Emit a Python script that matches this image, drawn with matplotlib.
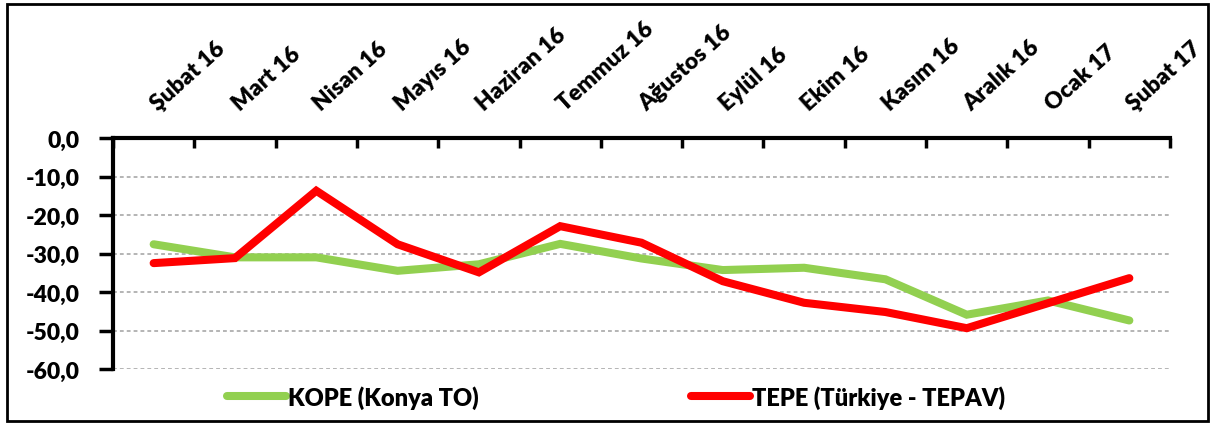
import matplotlib
matplotlib.use("Agg")
from matplotlib import pyplot as plt
from matplotlib.patches import Rectangle
import matplotlib.transforms as mtransforms

months = ["Şubat 16", "Mart 16", "Nisan 16", "Mayıs 16", "Haziran 16", "Temmuz 16",
          "Ağustos 16", "Eylül 16", "Ekim 16", "Kasım 16", "Aralık 16", "Ocak 17", "Şubat 17"]
kope = [-27.6, -31.0, -31.0, -34.5, -32.8, -27.5, -31.3, -34.3, -33.7, -36.7, -45.9, -42.2, -47.4]
tepe = [-32.5, -31.2, -13.7, -27.6, -34.9, -22.9, -27.2, -37.2, -42.8, -45.2, -49.4, -42.9, -36.4]
yticks = [0, -10, -20, -30, -40, -50, -60]

W = "heavy"
plt.rcParams['font.family'] = ['Lato', 'DejaVu Sans']
plt.rcParams['font.weight'] = W

fig = plt.figure(figsize=(12.15, 4.27), dpi=100)
ax = fig.add_axes([113/1215, 1-370/427, (1170-113)/1215, (370-139)/427])

x = list(range(len(months)))
ax.plot(x, kope, color="#92D050", lw=5.8, solid_capstyle="round", solid_joinstyle="miter",
        label="KOPE (Konya TO)")
ax.plot(x, tepe, color="#FF0000", lw=5.8, solid_capstyle="round", solid_joinstyle="miter",
        label="TEPE (Türkiye - TEPAV)")

ax.set_xlim(-0.5, len(months) - 0.5)
ax.set_ylim(-60, 0)

# y axis
ax.set_yticks(yticks)
ax.set_yticklabels([("%.1f" % v).replace(".", ",") for v in yticks], fontsize=16.5, fontweight=W)
ax.tick_params(axis="y", direction="out", length=10, width=2.5, pad=14)
for v in yticks[1:]:
    ax.axhline(v, color="#a0a0a0", lw=1.1, ls=(0, (2.5, 2)), zorder=0)

# x axis on top, ticks between categories
ax.xaxis.tick_top()
ax.set_xticks([i - 0.5 for i in range(len(months) + 1)])
ax.set_xticklabels([])
ax.tick_params(axis="x", direction="in", length=7, width=2.5)

off = mtransforms.ScaledTranslation(5/100, 0, fig.dpi_scale_trans)
trans = mtransforms.blended_transform_factory(ax.transData, ax.transAxes) + off
for i, m in enumerate(months):
    ax.text(i, 1 + 27/231, m, transform=trans, rotation=42, rotation_mode="anchor",
            ha="left", va="baseline", fontsize=16.5, fontweight=W)

ax.spines["bottom"].set_visible(False)
ax.spines["right"].set_visible(False)
ax.spines["top"].set_linewidth(3)
ax.spines["left"].set_linewidth(3)

fig.legend(loc="center", bbox_to_anchor=(616/1215, 1-398/427), ncol=2, frameon=False,
           handlelength=2.5, handletextpad=0.1, columnspacing=9.0,
           prop={"weight": W, "size": 17})

fig.patches.append(Rectangle((7/1215, 1-422/427), (1208-7)/1215, (422-5)/427,
                             transform=fig.transFigure, fill=False, lw=2, ec="black"))

fig.savefig("out.png", dpi=100)
